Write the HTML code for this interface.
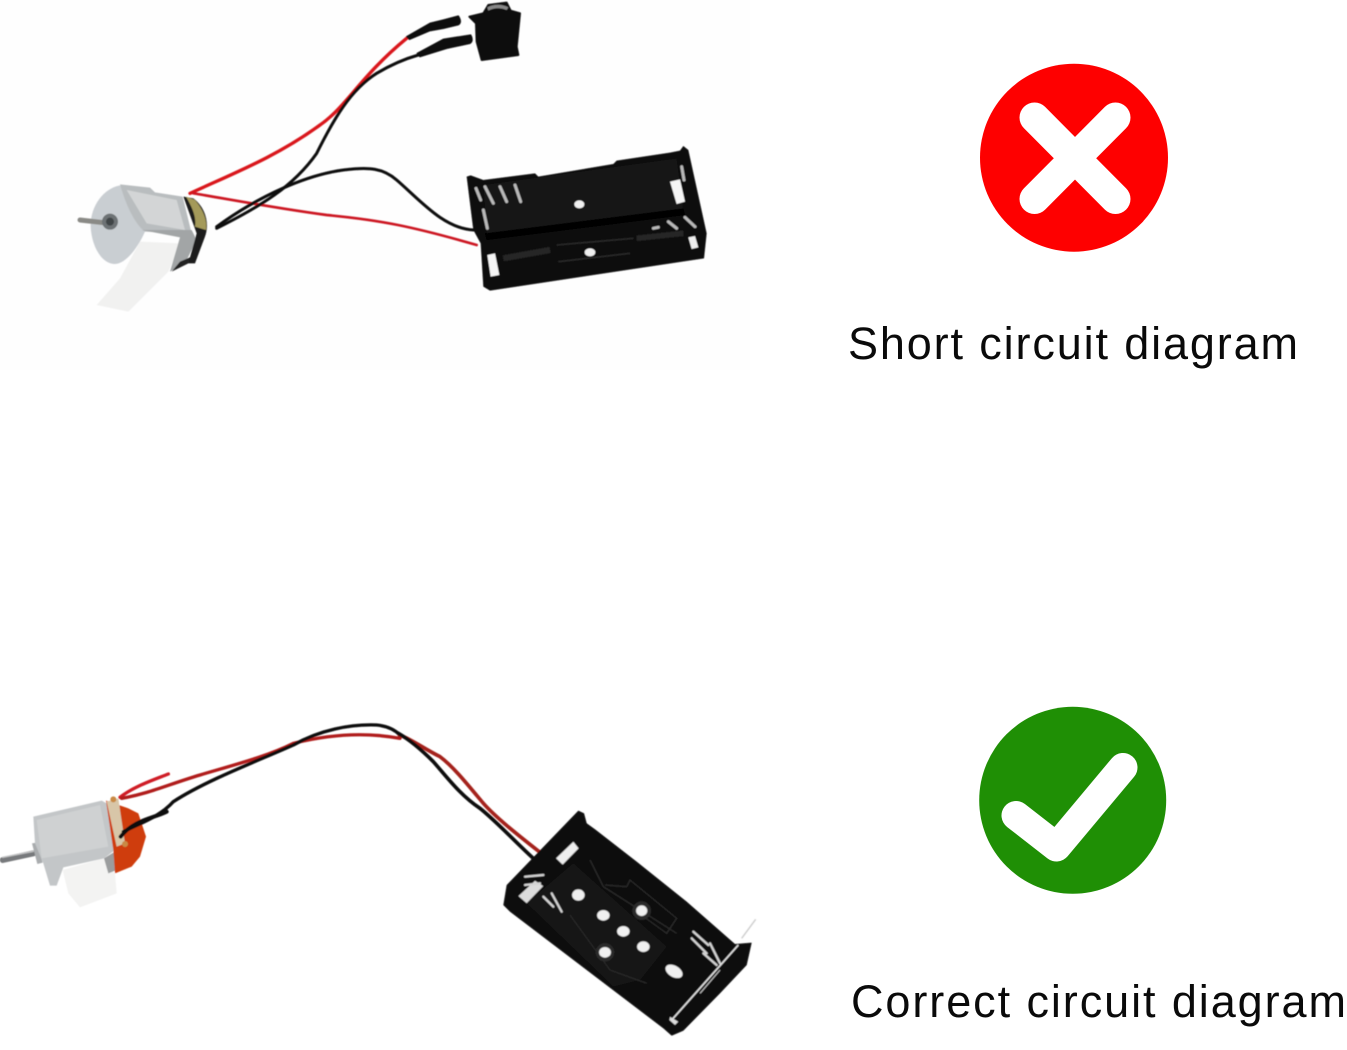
<!DOCTYPE html>
<html><head><meta charset="utf-8"><style>
html,body{margin:0;padding:0;background:#fff}
svg{display:block}
</style></head><body>
<svg xmlns="http://www.w3.org/2000/svg" width="1347" height="1050" viewBox="0 0 1347 1050">
<defs><filter id="b" x="-5%" y="-5%" width="110%" height="110%"><feGaussianBlur stdDeviation="0.6"/></filter></defs>
<rect width="1347" height="1050" fill="#fff"/>
<rect width="750" height="370" fill="#fefefe"/>

<g filter="url(#b)">
<!-- TOP MOTOR + WIRES -->
<g transform="translate(60,0) scale(.33333)" fill="none" stroke-linecap="round" stroke-linejoin="round">
  <polygon points="240,725 362,730 325,815 205,935 110,915 180,835" fill="#f1f1f0"/>
  <path d="M180 556C130 565 90 620 92 680C95 740 125 792 165 792C200 790 235 740 255 695L225 600Z" fill="#c9ced2"/>
  <path d="M180 553L270 563L285 577L368 590L395 700L255 695C235 680 205 640 180 553Z" fill="#b9bdbf"/>
  <path d="M200 570L350 600L375 690L260 670Z" fill="#d3d5d6"/>
  <path d="M245 690L360 712L330 815L375 790L410 720L395 690Z" fill="#a2a5a6"/>
  <path d="M335 815L385 790L395 770L360 785Z" fill="#222"/>
  <path d="M400 595C435 620 450 670 435 710L405 790L385 790L410 700L370 590Z" fill="#1c1c1c"/>
  <path d="M378 590L405 600C430 630 442 660 438 690L405 680C410 650 395 620 378 590Z" fill="#a49a5a"/>
  <path d="M60 660L130 668" stroke="#8a8a86" stroke-width="15"/>
  <circle cx="150" cy="665" r="24" fill="#6d7274"/>
  <circle cx="150" cy="665" r="12" fill="#3f4446"/>
  <path d="M390 580C520 520 650 470 780 375C860 320 900 230 1040 115" stroke="#d9161a" stroke-width="10"/>
  <path d="M400 580C520 600 650 625 800 645C960 660 1060 680 1250 735" stroke="#cc1820" stroke-width="8"/>
  <path d="M470 685C600 620 700 560 770 460C820 360 870 270 950 220C1000 190 1040 175 1075 165" stroke="#0e0e0e" stroke-width="9"/>
  <path d="M470 680C600 585 740 525 850 510C930 500 970 505 1010 540C1080 600 1150 685 1240 690" stroke="#0e0e0e" stroke-width="9"/>
  <path d="M1040 110L1110 70L1150 60L1195 48C1203 60 1203 70 1195 74L1150 85L1110 92L1048 118Z" fill="#111" stroke="#111" stroke-width="4"/>
  <path d="M1072 160L1150 118L1232 105C1238 115 1238 125 1230 130L1160 145L1080 170Z" fill="#111" stroke="#111" stroke-width="4"/>
</g>
<!-- SWITCH -->
<g transform="translate(400,0) scale(.33333)">
  <path d="M208 50L250 40L265 15L320 8L332 32L360 40L350 140L355 165L245 180L230 125L228 70Z" fill="#0c0c0c" stroke="#0c0c0c" stroke-width="6" stroke-linejoin="round"/>
  <path d="M262 22C285 10 310 14 325 22L320 30C300 22 280 24 265 32Z" fill="#888"/>
</g>
<!-- TOP BATTERY -->
<g transform="translate(450,130) scale(.33333)">
  <path d="M50 140L62 136L100 150L255 130L265 140L490 102L500 92L660 68L690 62L700 48L715 60L770 310L762 385L120 482L100 470L92 340L70 300Z" fill="#090909"/>
  <path d="M100 165L680 85L700 240L110 310Z" fill="#131313"/>
  <path d="M120 335L710 260L745 370L150 450Z" fill="#111"/>
  <path d="M105 310L700 235L705 255L110 330Z" fill="#030303"/>
  <ellipse cx="388" cy="223" rx="15" ry="12" fill="#f0f0f0"/>
  <ellipse cx="420" cy="367" rx="16" ry="12" fill="#f0f0f0"/>
  <polygon points="112,375 135,370 148,435 122,440" fill="#f5f5f5"/>
  <polygon points="660,155 690,148 705,215 680,222" fill="#f5f5f5"/>
  <polygon points="715,322 735,318 745,352 725,357" fill="#f0f0f0"/>
  <g fill="none" stroke="#b9b9b9" stroke-width="9" stroke-linecap="round">
    <path d="M78 175L92 210"/><path d="M100 240L112 295"/>
    <path d="M105 170L130 220"/><path d="M150 170L170 215"/><path d="M195 165L212 215"/>
    <path d="M610 295L625 292"/><path d="M655 275L680 295"/><path d="M705 262L735 290"/>
    <path d="M695 110L702 150"/>
  </g>
  <path d="M160 385L300 360" stroke="#252525" stroke-width="18"/>
  <path d="M560 325L700 310" stroke="#252525" stroke-width="16"/>
  <path d="M320 345L550 325M325 395L540 370" stroke="#2b2b2b" stroke-width="4"/>
</g>

<!-- BOTTOM MOTOR -->
<g transform="translate(0,710) scale(.33333)" fill="none" stroke-linecap="round" stroke-linejoin="round">
  <polygon points="188,480 310,445 345,490 350,550 240,592 205,550" fill="#f3f3f2"/>
  <path d="M8 450L100 430" stroke="#77797b" stroke-width="18"/>
  <path d="M8 442L100 424" stroke="#c4c5c6" stroke-width="4"/>
  <polygon points="96,400 110,398 128,458 112,462" fill="#a9acae"/>
  <path d="M100 320L305 272L320 280L345 420L312 445L190 472L170 527L150 527L130 460L105 400Z" fill="#c3c6c8"/>
  <path d="M110 330L300 285L325 410L125 445Z" fill="#cfd1d2"/>
  <path d="M312 445L345 425L350 480L325 490Z" fill="#9b9d9e"/>
  <path d="M318 272L385 295L415 310L438 380L420 440L395 470L345 490L340 420Z" fill="#cf3d0e"/>
  <path d="M320 275L355 265L375 400L350 410Z" fill="#d8c6a8"/>
  <circle cx="340" cy="268" r="9" fill="#c98a45"/>
  <circle cx="375" cy="402" r="9" fill="#c98a45"/>
  <path d="M360 262C400 230 460 210 505 192" stroke="#cf1f25" stroke-width="10"/>
  <path d="M365 265C450 250 500 225 600 195C700 165 800 140 880 100C980 75 1090 65 1200 85" stroke="#b01f1a" stroke-width="10"/>
  <path d="M362 380C400 330 460 325 500 305" stroke="#0e0e0e" stroke-width="12"/>
  <path d="M370 365C420 340 480 320 520 275C620 210 780 150 880 105C960 60 1050 42 1130 45C1160 48 1185 60 1200 75" stroke="#0e0e0e" stroke-width="10"/>
</g>
<g transform="translate(380,715) scale(.33333)" fill="none" stroke-linecap="round" stroke-linejoin="round">
  <path d="M58 60C90 70 130 100 180 125C220 155 260 205 310 265C350 310 420 365 480 412" stroke="#a4241b" stroke-width="11"/>
  <path d="M55 55C90 75 120 100 160 140C200 185 240 240 300 280C350 320 410 385 462 432" stroke="#0e0e0e" stroke-width="11"/>
</g>

<!-- BOTTOM BATTERY -->
<g transform="translate(490,790) scale(.33333)">
  <path d="M40 345L50 285L265 62L282 70L290 100L315 118L440 215L590 335L735 462L785 458L770 525L690 610L580 722L545 737L520 715L60 365Z" fill="#070707"/>
  <path d="M120 280L270 95L730 470L570 670Z" fill="#0f0f0f"/>
  <path d="M110 340L250 220L530 470L450 570L370 590Z" fill="#151515"/>
  <path d="M300 210L340 290L560 430M240 375L360 540L470 580" fill="none" stroke="#2b2b2b" stroke-width="4"/>
  <path d="M345 285L410 290L420 270L560 385L530 430L440 365" fill="none" stroke="#2b2b2b" stroke-width="4"/>
  <ellipse cx="265" cy="315" rx="19" ry="17" fill="#f0f0f0"/>
  <ellipse cx="340" cy="376" rx="19" ry="16" fill="#f0f0f0"/>
  <ellipse cx="400" cy="424" rx="19" ry="16" fill="#f0f0f0"/>
  <ellipse cx="460" cy="470" rx="19" ry="16" fill="#f0f0f0"/>
  <circle cx="345" cy="487" r="28" fill="#2a2a2a"/>
  <ellipse cx="345" cy="487" rx="18" ry="16" fill="#f0f0f0"/>
  <circle cx="455" cy="362" r="28" fill="#2a2a2a"/>
  <ellipse cx="455" cy="362" rx="17" ry="16" fill="#f0f0f0"/>
  <ellipse cx="552" cy="544" rx="28" ry="17" transform="rotate(30 552 544)" fill="#f0f0f0"/>
  <polygon points="198,205 250,155 266,175 218,224" fill="#eee"/>
  <polygon points="85,318 135,272 160,288 110,340" fill="#ddd"/>
  <g fill="none" stroke="#d5d5d5" stroke-width="7" stroke-linecap="round">
    <path d="M105 260L160 255"/><path d="M105 285L150 280"/>
    <path d="M160 320L190 350"/><path d="M185 310L215 365"/>
    <path d="M610 425L655 465"/><path d="M605 445L650 490"/>
    <path d="M660 460L690 520"/><path d="M640 490L680 525"/>
  </g>
  <path d="M545 690L745 465" stroke="#e8e8e8" stroke-width="5"/>
  <path d="M690 540L630 610" stroke="#e0e0e0" stroke-width="3"/>
  <polygon points="540,680 565,695 555,705 538,690" fill="#ddd"/>
  <path d="M755 445L797 388" stroke="#c9c9c9" stroke-width="4"/>
</g>
</g>

<!-- RED ICON -->
<circle cx="1074" cy="157.7" r="94" fill="#fe0000"/>
<path d="M1034.5 117.5L1115.5 199M1115.5 117.5L1034.5 199" stroke="#fff" stroke-width="30" stroke-linecap="round" fill="none"/>
<!-- GREEN ICON -->
<circle cx="1072.7" cy="800.3" r="93.5" fill="#1f8f05"/>
<path d="M1016 815.5L1056.5 847L1123 767.5" stroke="#fff" stroke-width="29" stroke-linecap="round" stroke-linejoin="round" fill="none"/>

<text x="848" y="359" font-family="'Liberation Sans',sans-serif" font-size="45" textLength="450" lengthAdjust="spacing" fill="#0a0a0a">Short circuit diagram</text>
<text x="851" y="1017" font-family="'Liberation Sans',sans-serif" font-size="45" textLength="495" lengthAdjust="spacing" fill="#0a0a0a">Correct circuit diagram</text>
</svg>
</body></html>
